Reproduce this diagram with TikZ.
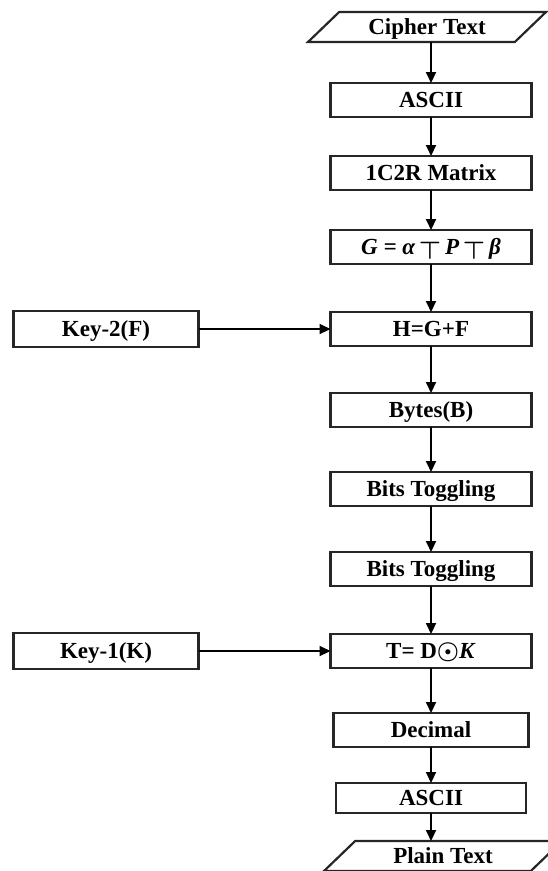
\documentclass[tikz,border=0pt]{standalone}
\usepackage{amsmath}
\usepackage{bm}
\usepackage{fontspec}
\setmainfont{Liberation Serif}
\usetikzlibrary{shapes.geometric, arrows.meta, positioning}

\begin{document}
\begin{tikzpicture}[
        x=1pt, y=1pt,
        flow_box/.style={
            draw=black!85, rectangle, line width=2.2pt, minimum width=201pt, minimum height=34pt,
            inner sep=0pt, outer sep=0pt, text height=16.6pt, text depth=1.4pt,
            font=\fontsize{23}{27}\selectfont\bfseries, fill=white
        },
        key_box/.style={
            flow_box, minimum width=185pt, minimum height=36pt
        },
        io_box/.style={
            draw=black!85, trapezium, trapezium left angle=30, trapezium right angle=150,
            trapezium stretches body, line width=2.2pt, minimum width=238pt, minimum height=30pt,
            inner sep=0pt, outer sep=0pt, text height=16.6pt, text depth=1.4pt,
            font=\fontsize{23}{27}\selectfont\bfseries, fill=white
        },
        flow_arrow/.style={
            -{Triangle[length=11pt, width=10pt]}, line width=2pt
        }
    ]

    \useasboundingbox (0,0) rectangle (547,-871);

    % Define the steps (Top to Bottom)
    \node[io_box] (CT) at (427,-27) {Cipher Text};
    \node[flow_box, below=41pt of CT, xshift=4pt] (A1) {ASCII};
    \node[flow_box, below=39pt of A1] (M) {1C2R Matrix};
    \node[flow_box, below=40pt of M] (G) {\itshape G = α\,\raisebox{-.45ex}{$\bm{\top}$}\,P\,\raisebox{-.45ex}{$\bm{\top}$}\,β};
    \node[flow_box, below=48pt of G] (H) {H=G+F};
    \node[flow_box, below=47pt of H] (B) {Bytes(B)};
    \node[flow_box, below=45pt of B] (BT1) {Bits Toggling};
    \node[flow_box, below=46pt of BT1] (BT2) {Bits Toggling};
    \node[flow_box, below=48pt of BT2] (T) {T= D$\bm{\odot}$\textit{K}};
    \node[flow_box, below=45pt of T, minimum width=195pt] (D) {Decimal};
    \node[flow_box, below=36pt of D, minimum width=190pt, minimum height=30pt] (A2) {ASCII};
    \node[io_box, below=28pt of A2, xshift=12pt] (PT) {Plain Text};

    % Keys
    \node[key_box, left=132pt of H] (K2) {Key-2(F)};
    \node[key_box, left=132pt of T] (K1) {Key-1(K)};

    % Connectors
    \draw[flow_arrow] (CT.south -| A1.north) -- (A1);
    \draw[flow_arrow] (A1) -- (M);
    \draw[flow_arrow] (M) -- (G);
    \draw[flow_arrow] (G) -- (H);
    \draw[flow_arrow] (H) -- (B);
    \draw[flow_arrow] (B) -- (BT1);
    \draw[flow_arrow] (BT1) -- (BT2);
    \draw[flow_arrow] (BT2) -- (T);
    \draw[flow_arrow] (T) -- (D);
    \draw[flow_arrow] (D) -- (A2);
    \draw[flow_arrow] (A2.south) -- (A2.south |- PT.north);
    \draw[flow_arrow] (K2) -- (H);
    \draw[flow_arrow] (K1) -- (T);

\end{tikzpicture}
\end{document}
